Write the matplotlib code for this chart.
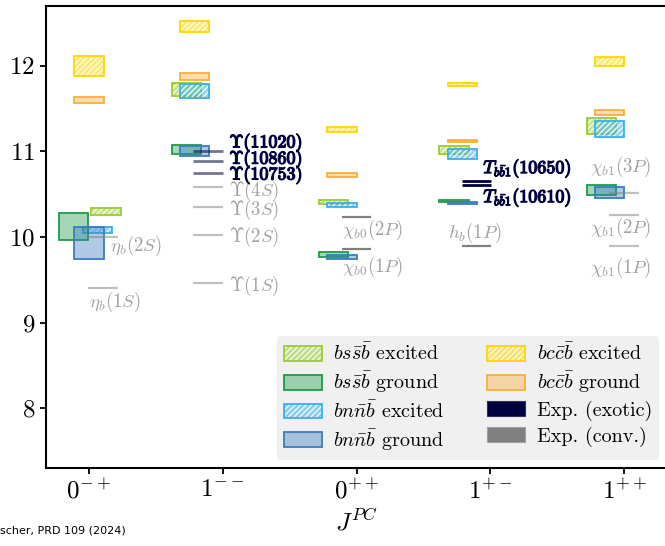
import matplotlib.pyplot as plt
import matplotlib.patheffects as pe
from matplotlib.patches import Rectangle, Patch
from matplotlib.colors import to_rgba

plt.rcParams['font.family'] = 'serif'
plt.rcParams['font.serif'] = ['cmr10']
plt.rcParams['mathtext.fontset'] = 'cm'
plt.rcParams['axes.formatter.use_mathtext'] = True
plt.rcParams['hatch.linewidth'] = 0.8

# J^PC channels
jpc = [r'$0^{-+}$', r'$1^{--}$', r'$0^{++}$', r'$1^{+-}$', r'$1^{++}$']

# lattice bands (GeV): lower / upper edge per channel
bss_exc_lo = [10.26, 11.65, 10.38, 10.97, 11.20]
bss_exc_hi = [10.34, 11.80, 10.43, 11.06, 11.39]
bss_gnd_lo = [9.96, 10.97, 9.77, 10.41, 10.49]
bss_gnd_hi = [10.28, 11.08, 9.82, 10.43, 10.61]
bnn_exc_lo = [10.05, 11.63, 10.35, 10.91, 11.17]
bnn_exc_hi = [10.12, 11.79, 10.40, 11.03, 11.36]
bnn_gnd_lo = [9.74, 10.95, 9.74, 10.39, 10.46]
bnn_gnd_hi = [10.12, 11.06, 9.79, 10.41, 10.58]
bcc_exc_lo = [11.88, 12.39, 11.23, 11.77, 12.00]
bcc_exc_hi = [12.11, 12.52, 11.28, 11.80, 12.10]
bcc_gnd_lo = [11.57, 11.84, 10.70, 11.115, 11.43]
bcc_gnd_hi = [11.64, 11.92, 10.745, 11.135, 11.48]

# experiment, conventional states
conv_col = [0, 0, 1, 1, 1, 1, 2, 2, 3, 4, 4, 4]
conv_mass = [9.399, 9.999, 9.460, 10.023, 10.355, 10.579, 9.859, 10.233,
             9.899, 9.893, 10.255, 10.513]
conv_name = [r'$\eta_b(1S)$', r'$\eta_b(2S)$', r'$\Upsilon(1S)$', r'$\Upsilon(2S)$',
             r'$\Upsilon(3S)$', r'$\Upsilon(4S)$', r'$\chi_{b0}(1P)$', r'$\chi_{b0}(2P)$',
             r'$h_b(1P)$', r'$\chi_{b1}(1P)$', r'$\chi_{b1}(2P)$', r'$\chi_{b1}(3P)$']
conv_dark = [False, False, False, False, False, False, True, True, True, False, False, False]

# experiment, exotic states
exo_col = [1, 1, 1, 3, 3]
exo_mass = [10.753, 10.885, 11.000, 10.607, 10.652]
exo_name = [r'$\Upsilon(10753)$', r'$\Upsilon(10860)$', r'$\Upsilon(11020)$',
            r'$T_{b\bar{b}1}(10610)$', r'$T_{b\bar{b}1}(10650)$']
exo_faint = [True, True, True, False, False]

# layout: horizontal offsets inside each channel and label positions
w = 0.22
off_bss_exc = [0.127, -0.27, -0.17, -0.27, -0.17]
off_bss_gnd = [-0.116, -0.27, -0.17, -0.27, -0.17]
off_bnn_exc = [0.064, -0.21, -0.11, -0.21, -0.11]
off_bnn_gnd = [0.0, -0.21, -0.11, -0.21, -0.11]
off_bcc = [0.0, -0.21, -0.11, -0.21, -0.11]
off_line = [0.105, -0.11, 0.0, -0.105, 0.0]
conv_lab_x = [0.0, 0.157, 1.05, 1.05, 1.05, 1.05, 1.895, 1.895, 2.686, 3.746, 3.746, 3.746]
conv_lab_y = [9.24, 9.895, 9.427, 9.997, 10.316, 10.54, 9.65, 10.08, 10.05, 9.64, 10.105, 10.82]
exo_lab_x = [1.05, 1.05, 1.05, 2.948, 2.948]
exo_lab_y = [10.725, 10.91, 11.10, 10.46, 10.80]

c_bss_exc = '#9acd32'
c_bss_gnd = '#1f9a4a'
c_bnn_exc = '#3cb0e8'
c_bnn_gnd = '#3a7cc0'
c_bcc_exc = '#ffd700'
c_bcc_gnd = '#f9ae3c'
c_exo = '#000040'
c_conv = '#808080'
hatch = '//////'

fig = plt.figure(figsize=(6.65, 5.46), dpi=100)
ax = fig.add_axes([0.0692, 0.1429, 0.9338, 0.8462])


def band(x, lo, hi, color, hatched):
    if hatched:
        ax.add_patch(Rectangle((x - w / 2, lo), w, hi - lo, facecolor=to_rgba(color, 0.55),
                               edgecolor='white', lw=0, hatch=hatch))
        ax.add_patch(Rectangle((x - w / 2, lo), w, hi - lo, fill=False, edgecolor=color, lw=1.3))
    else:
        ax.add_patch(Rectangle((x - w / 2, lo), w, hi - lo, facecolor=to_rgba(color, 0.4),
                               edgecolor=color, lw=1.3))


for i in range(len(jpc)):
    band(i + off_bss_exc[i], bss_exc_lo[i], bss_exc_hi[i], c_bss_exc, True)
    band(i + off_bnn_exc[i], bnn_exc_lo[i], bnn_exc_hi[i], c_bnn_exc, True)
    band(i + off_bss_gnd[i], bss_gnd_lo[i], bss_gnd_hi[i], c_bss_gnd, False)
    band(i + off_bnn_gnd[i], bnn_gnd_lo[i], bnn_gnd_hi[i], c_bnn_gnd, False)
    band(i + off_bcc[i], bcc_exc_lo[i], bcc_exc_hi[i], c_bcc_exc, True)
    band(i + off_bcc[i], bcc_gnd_lo[i], bcc_gnd_hi[i], c_bcc_gnd, False)

for k in range(len(conv_mass)):
    xc = conv_col[k] + off_line[conv_col[k]]
    ax.hlines(conv_mass[k], xc - w / 2, xc + w / 2, color=c_conv,
              alpha=1.0 if conv_dark[k] else 0.5, lw=1.6, zorder=1)
    ax.text(conv_lab_x[k], conv_lab_y[k], conv_name[k], color='#a0a0a0',
            fontsize=13.5, ha='left', va='center')

# bold look for the exotic labels
bold = [pe.withStroke(linewidth=0.9, foreground=c_exo)]
for k in range(len(exo_mass)):
    xc = exo_col[k] + off_line[exo_col[k]]
    ax.hlines(exo_mass[k], xc - w / 2, xc + w / 2, color=c_exo,
              alpha=0.55 if exo_faint[k] else 1.0, lw=2.0, zorder=1)
    ax.text(exo_lab_x[k], exo_lab_y[k], exo_name[k], color=c_exo,
            fontsize=13, ha='left', va='center', path_effects=bold)

ax.set_xlim(-0.32, 4.32)
ax.set_ylim(7.3, 12.7)
ax.set_xticks(range(len(jpc)))
ax.set_xticklabels(jpc)
ax.set_yticks([8, 9, 10, 11, 12])
ax.tick_params(labelsize=18, length=4, width=1.3, pad=4)
for s in ax.spines.values():
    s.set_linewidth(1.5)
ax.set_xlabel(r'$J^{PC}$', fontsize=18, labelpad=4)


def hatched_handle(color):
    return (Patch(facecolor=to_rgba(color, 0.55), edgecolor='white', lw=0, hatch=hatch),
            Patch(fill=False, edgecolor=color, lw=1.3))


handles = [hatched_handle(c_bss_exc),
           Patch(facecolor=to_rgba(c_bss_gnd, 0.4), edgecolor=c_bss_gnd, lw=1.3),
           hatched_handle(c_bnn_exc),
           Patch(facecolor=to_rgba(c_bnn_gnd, 0.4), edgecolor=c_bnn_gnd, lw=1.3),
           hatched_handle(c_bcc_exc),
           Patch(facecolor=to_rgba(c_bcc_gnd, 0.4), edgecolor=c_bcc_gnd, lw=1.3),
           Patch(facecolor=c_exo, edgecolor='#30305a', lw=0.8),
           Patch(facecolor=c_conv, edgecolor='#a0a0a0', lw=0.8)]
labels = [r'$bs\bar{s}\bar{b}$ excited', r'$bs\bar{s}\bar{b}$ ground',
          r'$bn\bar{n}\bar{b}$ excited', r'$bn\bar{n}\bar{b}$ ground',
          r'$bc\bar{c}\bar{b}$ excited', r'$bc\bar{c}\bar{b}$ ground',
          'Exp. (exotic)', 'Exp. (conv.)']
leg = ax.legend(handles, labels, ncol=2, loc='lower right', fontsize=14.5,
                handlelength=1.9, handleheight=0.75, labelspacing=0.28,
                columnspacing=2.1, handletextpad=0.55, borderaxespad=0.4,
                borderpad=0.35, facecolor='#f0f0f0', edgecolor='none', framealpha=1.0)

fig.text(0.0, 0.029, 'scher, PRD 109 (2024)', family='DejaVu Sans', fontsize=8,
         ha='left', va='center')

fig.savefig('out.png', dpi=100)
